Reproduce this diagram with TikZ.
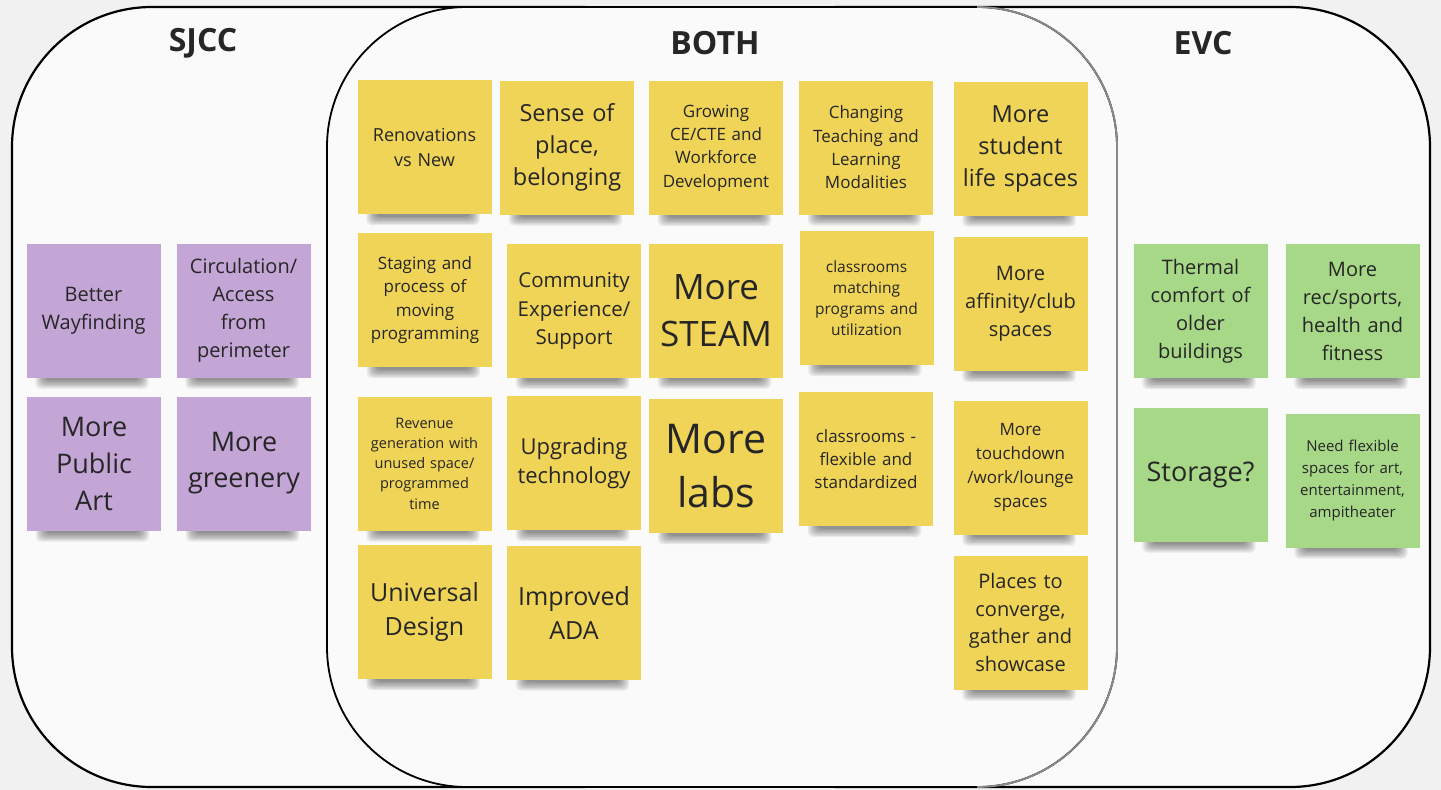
\documentclass[tikz,border=0pt]{standalone}
\usepackage{fontspec}
\setmainfont{Open Sans}
\definecolor{bgc}{HTML}{F1F1F1}
\definecolor{innerc}{HTML}{FAFAFA}
\definecolor{ylw}{HTML}{F0D458}
\definecolor{ppl}{HTML}{C4A6D6}
\definecolor{grn}{HTML}{A7D888}
\definecolor{txt}{HTML}{262626}
\definecolor{edgegray}{HTML}{8A8A8A}
\newcommand{\fsz}[2]{\fontsize{#1}{#2}\selectfont}
\pgfdeclarelayer{bglayer}
\pgfdeclarelayer{shadowlayer}
\pgfsetlayers{bglayer,shadowlayer,main}
\begin{document}
\begin{tikzpicture}[x=1pt,y=-1pt,
  note/.style={minimum width=134pt, minimum height=134pt, inner sep=0pt, align=center, text=txt, text width=132pt},
  yn/.style={note, fill=ylw},
  pn/.style={note, fill=ppl},
  gn/.style={note, fill=grn},
  title/.style={font=\bfseries\fsz{32}{38}, text=txt, inner sep=0pt},
  venn/.style={rounded corners=140pt, line width=2.2pt},
]
\useasboundingbox (0,0) rectangle (1441,790);

\begin{pgfonlayer}{bglayer}
  \fill[bgc] (0,0) rectangle (1441,790);
  \filldraw[venn, fill=innerc, draw=black] (12,7) rectangle (720,787);
  \filldraw[venn, fill=innerc, draw=black] (700,7) rectangle (1430,787);
  \filldraw[venn, fill=innerc, draw=black, line width=1.8pt] (327,7) rectangle (1117,787);
  \coordinate (gtop) at (977,7);
  \coordinate (gr1) at (1117,147);
  \coordinate (gr2) at (1117,647);
  \coordinate (gbot) at (977,787);
  \draw[draw=edgegray, line width=1.8pt] (gtop) to[out=0,in=90] (gr1) -- (gr2) to[out=-90,in=0] (gbot);
\end{pgfonlayer}

% titles
\node[title] (tsjcc) at (203,43) {SJCC};
\node[title] (tboth) at (715,43) {BOTH};
\node[title] (tevc) at (1203,43) {EVC};

% SJCC notes
\node[pn, font=\fsz{20}{28}] (s1) at (93.5,310.5) {Better\\Wayfinding};
\node[pn, font=\fsz{20}{28}] (s2) at (243.5,310.5) {Circulation/\\Access\\from\\perimeter};
\node[pn, font=\fsz{27}{37}] (s3) at (94,463.5) {More\\Public\\Art};
\node[pn, font=\fsz{27}{36}] (s4) at (244,463.5) {More\\greenery};

% BOTH notes
\node[yn, font=\fsz{18}{25}] (b1) at (424.5,147) {Renovations\\vs New};
\node[yn, font=\fsz{23.5}{32}] (b2) at (567,147.5) {Sense of\\place,\\belonging};
\node[yn, font=\fsz{17}{23.4}] (b3) at (716,148) {Growing\\CE/CTE and\\Workforce\\Development};
\node[yn, font=\fsz{17}{23.4}] (b4) at (866,147.5) {Changing\\Teaching and\\Learning\\Modalities};
\node[yn, font=\fsz{23.5}{32}] (b5) at (1020.5,148.5) {More\\student\\life spaces};

\node[yn, font=\fsz{17}{23.4}] (b6) at (425,300) {Staging and\\process of\\moving\\programming};
\node[yn, font=\fsz{20.5}{28.5}] (b7) at (574,311) {Community\\Experience/\\Support};
\node[yn, font=\fsz{35}{47}] (b8) at (716,310.5) {More\\STEAM};
\node[yn, font=\fsz{15.5}{21}] (b9) at (866.5,298) {classrooms\\matching\\programs and\\utilization};
\node[yn, font=\fsz{20}{28}] (b10) at (1020.5,304) {More\\affinity/club\\spaces};

\node[yn, font=\fsz{14.5}{20.3}] (b11) at (424.5,463.5) {Revenue\\generation with\\unused space/\\programmed\\time};
\node[yn, font=\fsz{22}{29}] (b12) at (574,463) {Upgrading\\technology};
\node[yn, font=\fsz{41}{54}] (b13) at (716,466) {More\\labs};
\node[yn, font=\fsz{17}{23}] (b14) at (866,459) {classrooms -\\flexible and\\standardized};
\node[yn, font=\fsz{17}{23.7}] (b15) at (1020.5,467.5) {More\\touchdown\\/work/lounge\\spaces};

\node[yn, font=\fsz{25}{34}] (b16) at (424.5,612) {Universal\\Design};
\node[yn, font=\fsz{25}{34}] (b17) at (574,612.5) {Improved\\ADA};
\node[yn, font=\fsz{20}{27.7}] (b18) at (1020.5,622.5) {Places to\\converge,\\gather and\\showcase};

% EVC notes
\node[gn, font=\fsz{20}{28}] (e1) at (1200.5,311) {Thermal\\comfort of\\older\\buildings};
\node[gn, font=\fsz{20}{28}] (e2) at (1352.5,311) {More\\rec/sports,\\health and\\fitness};
\node[gn, font=\fsz{27}{36}] (e3) at (1200.5,474.5) {Storage?};
\node[gn, font=\fsz{15}{22}] (e4) at (1352.5,480.5) {Need flexible\\spaces for art,\\entertainment,\\ampitheater};

% shadows
\begin{pgfonlayer}{shadowlayer}
\foreach \n in {s1,s2,s3,s4,b1,b2,b3,b4,b5,b6,b7,b8,b9,b10,b11,b12,b13,b14,b15,b16,b17,b18,e1,e2,e3,e4}{
  \foreach \k in {0,...,6}{
    \fill[black, opacity=0.07, rounded corners=5pt]
      ([xshift={9pt+1.6pt*\k}, yshift={-11pt+1.4pt*\k}]\n.south west) rectangle
      ([xshift={-12pt-1.6pt*\k}, yshift=12pt]\n.south east);
  }
}
\end{pgfonlayer}
\end{tikzpicture}
\end{document}
